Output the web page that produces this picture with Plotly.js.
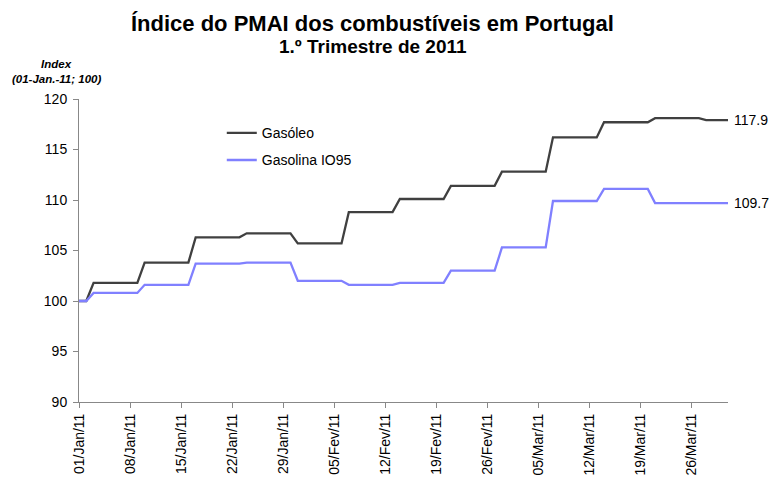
<!DOCTYPE html>
<html>
<head>
<meta charset="utf-8">
<script src="https://cdn.plot.ly/plotly-3.0.1.min.js"></script>
<style>html,body{margin:0;padding:0;background:#fff;}#chart{width:770px;height:482px;}</style>
</head>
<body>
<div id="chart"></div>
<script>
const days = [
"01/Jan/11","02/Jan/11","03/Jan/11","04/Jan/11","05/Jan/11","06/Jan/11","07/Jan/11","08/Jan/11","09/Jan/11","10/Jan/11",
"11/Jan/11","12/Jan/11","13/Jan/11","14/Jan/11","15/Jan/11","16/Jan/11","17/Jan/11","18/Jan/11","19/Jan/11","20/Jan/11",
"21/Jan/11","22/Jan/11","23/Jan/11","24/Jan/11","25/Jan/11","26/Jan/11","27/Jan/11","28/Jan/11","29/Jan/11","30/Jan/11",
"31/Jan/11","01/Fev/11","02/Fev/11","03/Fev/11","04/Fev/11","05/Fev/11","06/Fev/11","07/Fev/11","08/Fev/11","09/Fev/11",
"10/Fev/11","11/Fev/11","12/Fev/11","13/Fev/11","14/Fev/11","15/Fev/11","16/Fev/11","17/Fev/11","18/Fev/11","19/Fev/11",
"20/Fev/11","21/Fev/11","22/Fev/11","23/Fev/11","24/Fev/11","25/Fev/11","26/Fev/11","27/Fev/11","28/Fev/11","01/Mar/11",
"02/Mar/11","03/Mar/11","04/Mar/11","05/Mar/11","06/Mar/11","07/Mar/11","08/Mar/11","09/Mar/11","10/Mar/11","11/Mar/11",
"12/Mar/11","13/Mar/11","14/Mar/11","15/Mar/11","16/Mar/11","17/Mar/11","18/Mar/11","19/Mar/11","20/Mar/11","21/Mar/11",
"22/Mar/11","23/Mar/11","24/Mar/11","25/Mar/11","26/Mar/11","27/Mar/11","28/Mar/11","29/Mar/11","30/Mar/11","31/Mar/11"
];

const gasoleo = [
100,100,
101.8,101.8,101.8,101.8,101.8,101.8,101.8,
103.8,103.8,103.8,103.8,103.8,103.8,103.8,
106.3,106.3,106.3,106.3,106.3,106.3,106.3,
106.7,106.7,106.7,106.7,106.7,106.7,106.7,
105.7,105.7,105.7,105.7,105.7,105.7,105.7,
108.8,108.8,108.8,108.8,108.8,108.8,108.8,
110.1,110.1,110.1,110.1,110.1,110.1,110.1,
111.4,111.4,111.4,111.4,111.4,111.4,111.4,
112.8,112.8,112.8,112.8,112.8,112.8,112.8,
116.2,116.2,116.2,116.2,116.2,116.2,116.2,
117.7,117.7,117.7,117.7,117.7,117.7,117.7,
118.1,118.1,118.1,118.1,118.1,118.1,118.1,
117.9,117.9,117.9,117.9
];

const gasolina = [
100,100,
100.8,100.8,100.8,100.8,100.8,100.8,100.8,
101.6,101.6,101.6,101.6,101.6,101.6,101.6,
103.7,103.7,103.7,103.7,103.7,103.7,103.7,
103.8,103.8,103.8,103.8,103.8,103.8,103.8,
102.0,102.0,102.0,102.0,102.0,102.0,102.0,
101.6,101.6,101.6,101.6,101.6,101.6,101.6,
101.8,101.8,101.8,101.8,101.8,101.8,101.8,
103.0,103.0,103.0,103.0,103.0,103.0,103.0,
105.3,105.3,105.3,105.3,105.3,105.3,105.3,
109.9,109.9,109.9,109.9,109.9,109.9,109.9,
111.1,111.1,111.1,111.1,111.1,111.1,111.1,
109.7,109.7,109.7,109.7,109.7,109.7,109.7,
109.7,109.7,109.7,109.7
];

const tickLabels = ["01/Jan/11","08/Jan/11","15/Jan/11","22/Jan/11","29/Jan/11","05/Fev/11","12/Fev/11",
"19/Fev/11","26/Fev/11","05/Mar/11","12/Mar/11","19/Mar/11","26/Mar/11"];
const yTicks = [90,95,100,105,110,115,120];

const font = "Liberation Sans, Arial, sans-serif";

const traces = [
  {x: days, y: gasoleo, type: 'scatter', mode: 'lines', name: 'Gasóleo', legendgroup: 'a',
   line: {color: '#404040', width: 2.3}},
  {x: days, y: gasolina, type: 'scatter', mode: 'lines', name: 'Gasolina IO95', legendgroup: 'b',
   line: {color: '#8080ff', width: 2.3}}
];

const last = days.length - 1;
const layout = {
  width: 770, height: 482,
  margin: {l: 79, r: 42, t: 99, b: 80},
  paper_bgcolor: '#fff', plot_bgcolor: '#fff',
  showlegend: true,
  legend: {x: 0.22, y: 0.94, xanchor: 'left', yanchor: 'top', traceorder: 'grouped',
           font: {family: font, size: 14, color: '#000'}, bgcolor: 'rgba(0,0,0,0)',
           tracegroupgap: 6, itemwidth: 30},
  xaxis: {type: 'category', range: [0, last], tickmode: 'array', tickvals: tickLabels, ticktext: tickLabels,
          tickangle: -90, ticks: 'outside', ticklen: 5, tickcolor: '#888', showline: true,
          linecolor: '#888', linewidth: 1, showgrid: false, zeroline: false,
          tickfont: {family: font, size: 14, color: '#000'}},
  yaxis: {range: [90, 120], tickmode: 'array', tickvals: yTicks, ticks: 'outside', ticklen: 5,
          tickcolor: '#888', showline: true, linecolor: '#888', linewidth: 1, showgrid: false,
          zeroline: false, tickfont: {family: font, size: 14, color: '#000'}, ticklabelstandoff: 3},
  annotations: [
    {text: '<b>Índice do PMAI dos combustíveis em Portugal</b>', xref: 'paper', yref: 'paper',
     x: 0.5, y: 1, xanchor: 'center', yanchor: 'bottom', xshift: -31, yshift: 61, showarrow: false,
     font: {family: font, size: 22, color: '#000'}},
    {text: '<b>1.º Trimestre de 2011</b>', xref: 'paper', yref: 'paper',
     x: 0.5, y: 1, xanchor: 'center', yanchor: 'bottom', xshift: -31, yshift: 40, showarrow: false,
     font: {family: font, size: 19, color: '#000'}},
    {text: '<b><i>Index</i></b>', xref: 'paper', yref: 'paper', x: 0, y: 1, xanchor: 'center',
     yanchor: 'bottom', xshift: -23, yshift: 27, showarrow: false,
     font: {family: font, size: 11.5, color: '#000'}},
    {text: '<b><i>(01-Jan.-11; 100)</i></b>', xref: 'paper', yref: 'paper', x: 0, y: 1, xanchor: 'center',
     yanchor: 'bottom', xshift: -23, yshift: 12, showarrow: false,
     font: {family: font, size: 11.5, color: '#000'}},
    {text: String(gasoleo[last]), x: days[last], y: gasoleo[last], xref: 'x', yref: 'y',
     xanchor: 'left', xshift: 4, showarrow: false, font: {family: font, size: 14, color: '#000'}},
    {text: String(gasolina[last]), x: days[last], y: gasolina[last], xref: 'x', yref: 'y',
     xanchor: 'left', xshift: 4, showarrow: false, font: {family: font, size: 14, color: '#000'}}
  ]
};

Plotly.newPlot('chart', traces, layout, {displayModeBar: false, staticPlot: true});
</script>
</body>
</html>
